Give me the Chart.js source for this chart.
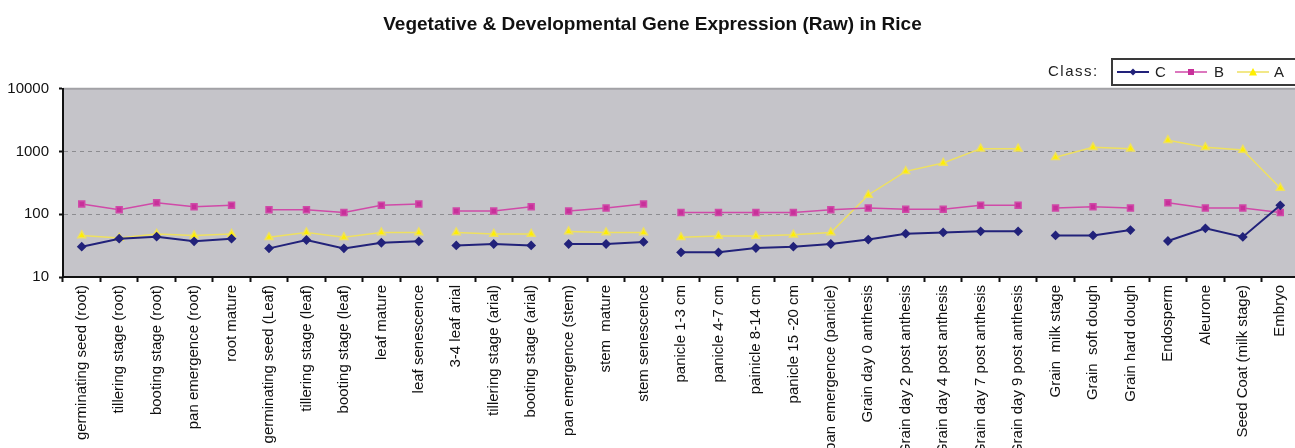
<!DOCTYPE html>
<html>
<head>
<meta charset="utf-8">
<script src="https://cdn.jsdelivr.net/npm/chart.js@4/dist/chart.umd.min.js"></script>
<style>
  html, body { margin: 0; padding: 0; background: #fff; overflow: hidden; }
  #wrap { position: relative; width: 1305px; height: 448px; }
  #legendLabel {
    position: absolute; left: 1048px; top: 62px;
    font: 15px "Liberation Sans", Arial, sans-serif; letter-spacing: 1.5px; color: #222;
  }
  #legendBox {
    position: absolute; left: 1111px; top: 58px; width: 200px; height: 24px;
    border: 2px solid #3a3a3a; background: #fff;
    font: 15px "Liberation Sans", Arial, sans-serif; color: #222;
  }
  #legendBox .item { position: absolute; top: 0; height: 24px; line-height: 24px; }
  #legendBox svg { position: absolute; top: 7px; }
</style>
</head>
<body>
<div id="wrap">
  <canvas id="myChart" width="1305" height="448"></canvas>
  <div id="legendLabel">Class:</div>
  <div id="legendBox">
    <div class="item" style="left:4px">
      <svg width="32" height="10"><line x1="0" y1="5" x2="32" y2="5" stroke="#22227a" stroke-width="2"/><polygon points="16,1.5 19.5,5 16,8.5 12.5,5" fill="#22227a"/></svg>
      <span style="position:absolute;left:38px">C</span>
    </div>
    <div class="item" style="left:62px">
      <svg width="32" height="10"><line x1="0" y1="5" x2="32" y2="5" stroke="#d04aa8" stroke-width="1.5"/><rect x="13" y="2" width="6" height="6" fill="#c8309a"/></svg>
      <span style="position:absolute;left:39px">B</span>
    </div>
    <div class="item" style="left:124px">
      <svg width="32" height="10"><line x1="0" y1="5" x2="32" y2="5" stroke="#eee060" stroke-width="1.5"/><polygon points="16,1 20,8.5 12,8.5" fill="#ffef00"/></svg>
      <span style="position:absolute;left:37px">A</span>
    </div>
  </div>
</div>
<script>
const labels = [
  'germinating seed (root)', 'tillering stage (root)', 'booting stage (root)', 'pan emergence (root)', 'root mature',
  'germinating seed (Leaf)', 'tillering stage (leaf)', 'booting stage (leaf)', 'leaf mature', 'leaf senescence',
  '3-4 leaf arial', 'tillering stage (arial)', 'booting stage (arial)',
  'pan emergence (stem)', 'stem  mature', 'stem senescence',
  'panicle 1-3 cm', 'panicle 4-7 cm', 'painicle 8-14 cm', 'panicle 15 -20 cm', 'pan emergence (panicle)',
  'Grain day 0 anthesis', 'Grain day 2 post anthesis', 'Grain day 4 post anthesis', 'Grain day 7 post anthesis', 'Grain day 9 post anthesis',
  'Grain  milk stage', 'Grain  soft dough', 'Grain hard dough',
  'Endosperm', 'Aleurone', 'Seed Coat (milk stage)', 'Embryo'
];

// last index of each connected group (line is broken after these)
const groupEnds = [4, 9, 12, 15, 25, 28];

const classC = [30.4, 40.8, 44, 37, 40.8, 28.6, 38.9, 28.6, 35.2, 37, 31.9, 33.6, 31.9, 33.6, 33.6, 36.2,
  24.7, 24.7, 29, 30.4, 33.6, 39.5, 49, 51.4, 53.4, 53.4, 46, 46, 56, 37.5, 59.6, 43.5, 139];
const classB = [146, 118, 153, 132, 139, 118, 118, 107, 139, 146, 113, 113, 132, 113, 126, 146,
  107, 107, 107, 107, 118, 126, 120, 120, 139, 139, 126, 132, 126, 153, 126, 126, 107];
const classA = [46, 42, 48.5, 46, 48.5, 43, 51, 43, 51, 51, 51, 48.5, 48.5, 53, 51, 51,
  43, 45, 45, 47, 51, 203, 483, 658, 1112, 1112, 808, 1167, 1112, 1509, 1167, 1061, 263];

const yTicks = [10, 100, 1000, 10000];

const breakSegment = {
  borderColor: ctx => groupEnds.includes(ctx.p0DataIndex) ? 'rgba(0,0,0,0)' : undefined,
};

const plotBg = {
  id: 'plotBg',
  beforeDraw(chart) {
    const { ctx, chartArea: a } = chart;
    ctx.save();
    ctx.fillStyle = '#c5c4c9';
    ctx.fillRect(a.left, a.top, a.right - a.left, a.bottom - a.top);
    ctx.strokeStyle = '#a2a2a6';
    ctx.lineWidth = 2;
    ctx.beginPath();
    ctx.moveTo(a.left, a.top);
    ctx.lineTo(a.right, a.top);
    ctx.stroke();
    ctx.restore();
  },
};

const chart = new Chart(document.getElementById('myChart'), {
  type: 'line',
  data: {
    labels: labels,
    datasets: [
      {
        label: 'C',
        data: classC,
        borderColor: '#22227a',
        backgroundColor: '#22227a',
        borderWidth: 2,
        pointStyle: 'rectRot',
        pointRadius: 3.5,
        segment: breakSegment,
      },
      {
        label: 'B',
        data: classB,
        borderColor: '#d04aa8',
        backgroundColor: '#c8309a',
        borderWidth: 1.5,
        pointStyle: 'rect',
        pointRadius: 4.2,
        segment: breakSegment,
      },
      {
        label: 'A',
        data: classA,
        borderColor: '#eee060',
        backgroundColor: '#ffef00',
        borderWidth: 1.5,
        pointStyle: 'triangle',
        pointRadius: 4.5,
        segment: breakSegment,
      },
    ],
  },
  options: {
    responsive: false,
    animation: false,
    fill: false,
    tension: 0,
    layout: { padding: { left: 0, right: 0, top: 0, bottom: 0 } },
    plugins: {
      legend: { display: false },
      tooltip: { enabled: false },
      title: {
        display: true,
        text: 'Vegetative & Developmental Gene Expression (Raw) in Rice',
        color: '#111',
        font: { family: '"Liberation Sans Narrow", "Liberation Sans", Arial', size: 19, weight: 'bold' },
        padding: { top: 13, bottom: 53 },
      },
    },
    scales: {
      x: {
        offset: true,
        afterFit(scale) { scale.height = 171; },
        grid: {
          offset: true,
          drawOnChartArea: false,
          tickLength: 5,
          tickColor: '#111',
          tickWidth: 2,
        },
        border: { color: '#111', width: 2 },
        ticks: {
          autoSkip: false,
          maxRotation: 90,
          minRotation: 90,
          padding: 3,
          color: '#111',
          font: { family: '"Liberation Sans", Arial', size: 15 },
        },
      },
      y: {
        type: 'logarithmic',
        min: 10,
        max: 10000,
        afterFit(scale) { scale.width = 63; },
        afterBuildTicks(scale) { scale.ticks = yTicks.map(v => ({ value: v })); },
        grid: {
          color: ctx => (ctx.tick && (ctx.tick.value === 100 || ctx.tick.value === 1000)) ? '#8c8c90' : 'rgba(0,0,0,0)',
          tickColor: '#111',
          tickLength: 4,
          tickWidth: 2,
        },
        border: { color: '#111', width: 2, dash: [4, 4] },
        ticks: {
          padding: 10,
          color: '#111',
          font: { family: '"Liberation Sans", Arial', size: 15 },
          callback: v => String(v),
        },
      },
    },
  },
  plugins: [plotBg],
});
</script>
</body>
</html>
